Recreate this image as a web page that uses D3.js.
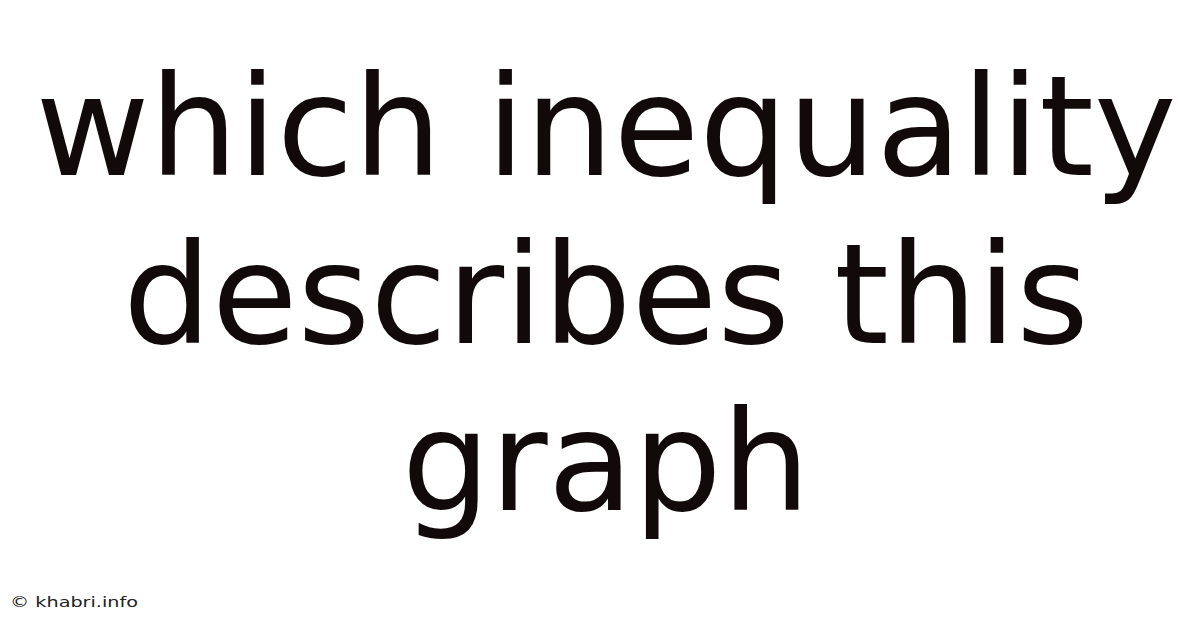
<!DOCTYPE html>
<html>
<head>
<meta charset="utf-8">
<script src="https://cdn.jsdelivr.net/npm/d3@7"></script>
<style>
  html, body { margin: 0; padding: 0; background: #fff; }
  svg { display: block; }
</style>
</head>
<body>
<svg id="chart" width="1200" height="628"></svg>
<script>
const titleLines = ['which inequality', 'describes this', 'graph'];
const footerText = '\u00a9 khabri.info';

const width = 1200;
const height = 628;
const svg = d3.select('#chart');

svg.append('rect').attr('width', width).attr('height', height).attr('fill', '#fff');

// baselines spaced evenly
const y = d3.scaleLinear().domain([0, titleLines.length - 1]).range([175, 510]);

svg.selectAll('.title-line')
  .data(titleLines)
  .join('text')
  .attr('class', 'title-line')
  .attr('x', 606)
  .attr('y', (d, i) => y(i))
  .attr('text-anchor', 'middle')
  .attr('font-family', 'DejaVu Sans')
  .attr('font-size', 139.5)
  .attr('fill', '#120a0a')
  .text(d => d);

// footer is stretched wide in the original
svg.append('text')
  .attr('x', 10)
  .attr('y', 607)
  .attr('font-family', 'DejaVu Sans')
  .attr('font-size', 13.5)
  .attr('fill', '#222')
  .attr('textLength', 128)
  .attr('lengthAdjust', 'spacingAndGlyphs')
  .text(footerText);
</script>
</body>
</html>
